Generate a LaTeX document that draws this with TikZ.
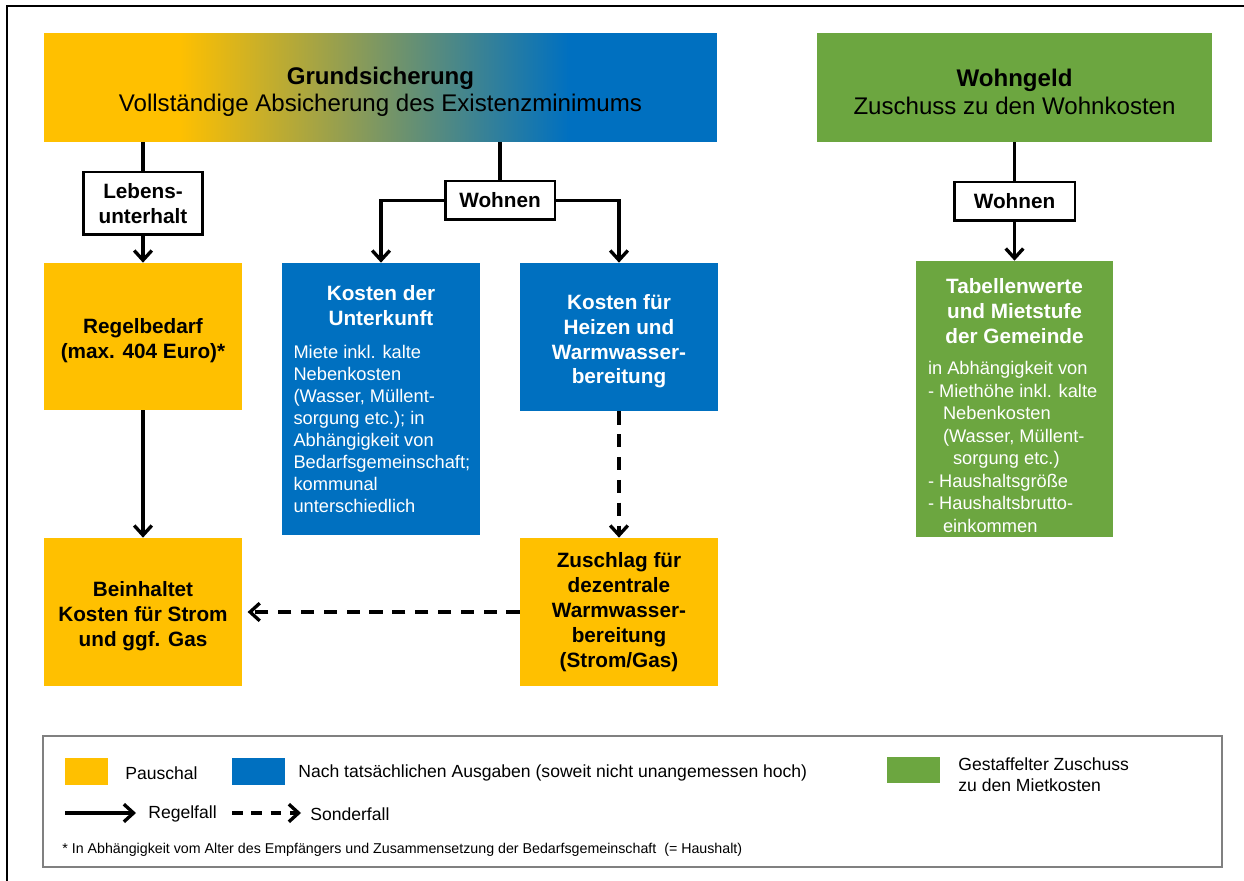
\documentclass[tikz,border=0pt]{standalone}
\usepackage{fontspec}
\setmainfont{Liberation Sans}
\usetikzlibrary{arrows.meta}
\definecolor{yel}{HTML}{FFC000}
\definecolor{blu}{HTML}{0070C0}
\definecolor{grn}{RGB}{108,166,64}
\newcommand\myhfont{\fontsize{11.8}{14.2}\selectfont\bfseries}
\newcommand\mybfont{\fontsize{10.4}{12.5}\selectfont\mdseries}
\newcommand\mytfont{\fontsize{13.7}{15.9}\selectfont}
\newcommand\tsa{\rule{0pt}{13.4pt}}
\newcommand\tsb{\rule{0pt}{14.8pt}}
\pgfdeclarehorizontalshading{gsshade}{100bp}{color(0bp)=(yel); color(35bp)=(yel); color(64bp)=(blu); color(100bp)=(blu)}
\begin{document}
\begin{tikzpicture}[x=0.02cm,y=-0.02cm,
  box/.style={rectangle, draw=none, inner sep=0, minimum width=3.96cm, align=center, font=\myhfont},
  lbl/.style={rectangle, draw, line width=1.7pt, fill=white, inner sep=0, align=center, font=\myhfont},
  head/.style={rectangle, draw=none, inner sep=0, minimum height=2.18cm, align=center, font=\mytfont},
  ln/.style={line width=1.9pt},
  arr/.style={line width=1.9pt, -{Straight Barb[length=5.5pt,width=10pt]}},
  darr/.style={arr, dash pattern=on 7.5pt off 5.5pt},
  swatch/.style={rectangle, draw=none, inner sep=0, minimum height=0.54cm},
  txt/.style={inner sep=0, anchor=west, font=\fontsize{10}{12}\selectfont, align=left}]
\useasboundingbox (0,0) rectangle (1244,881);
% outer frame
\draw[line width=1.4pt] (7,881) -- (7,6) -- (1244,6);

% headers
\node[head, shading=gsshade, minimum width=13.46cm] (gs) at (380.5,87.5)
  {\tsb\textbf{Grundsicherung}\\Vollständige Absicherung des Existenzminimums};
\node[head, fill=grn, minimum width=7.9cm] (wg) at (1014.5,87.5)
  {\tsb\textbf{Wohngeld}\\Zuschuss zu den Wohnkosten};

% label boxes
\node[lbl, minimum width=2.4cm, minimum height=1.26cm] (lu) at (143,203.5) {Lebens-\\unterhalt};
\node[lbl, minimum width=2.2cm, minimum height=0.78cm] (wo1) at (500,200.5) {Wohnen};
\node[lbl, minimum width=2.42cm, minimum height=0.78cm] (wo2) at (1014.5,201.5) {Wohnen};

% content boxes
\node[box, fill=yel, minimum height=2.94cm] (rb) at (143,336.5) {\tsa Regelbedarf\\(max. 404 Euro)*};
\node[box, fill=yel, minimum height=2.96cm] (bh) at (143,612) {\tsa Beinhaltet\\Kosten für Strom\\und ggf. Gas};
\node[box, fill=blu, text=white, minimum height=5.44cm, text width=3.5cm, align=none, inner xsep=0.23cm] (ku) at (381,399)
  {{\centering\myhfont Kosten der\\Unterkunft\par}\vspace{6pt}%
   {\raggedright\mybfont Miete inkl. kalte\\Nebenkosten\\(Wasser, Müllent-\\sorgung etc.); in\\Abhängigkeit von\\Bedarfsgemeinschaft;\\kommunal\\unterschiedlich\par}};
\node[box, fill=blu, text=white, minimum height=2.96cm] (hz) at (619,337) {\tsa Kosten für\\Heizen und\\Warmwasser-\\bereitung};
\node[box, fill=yel, minimum height=2.96cm] (zs) at (619,612) {Zuschlag für\\dezentrale\\Warmwasser-\\bereitung\\(Strom/Gas)};
\node[box, fill=grn, text=white, minimum width=3.94cm, minimum height=5.52cm, text width=3.46cm, align=none, inner xsep=0.24cm] (tw) at (1014.5,399)
  {{\centering\myhfont\rule{0pt}{16pt}Tabellenwerte\\und Mietstufe\\der Gemeinde\par}\vspace{5pt}%
   {\raggedright\fontsize{10.4}{12.8}\selectfont\mdseries in Abhängigkeit von\\- Miethöhe inkl. kalte\\\hspace*{0.3cm}Nebenkosten\\\hspace*{0.3cm}(Wasser, Müllent-\\\hspace*{0.5cm}sorgung etc.)\\- Haushaltsgröße\\- Haushaltsbrutto-\\\hspace*{0.3cm}einkommen\par}};

% connectors
\draw[ln] (lu.north |- gs.south) -- (lu.north);
\draw[arr] (lu.south) -- (rb.north);
\draw[ln] (wo1.north |- gs.south) -- (wo1.north);
\draw[arr] (wo1.west) -| (ku.north);
\draw[arr] (wo1.east) -| (hz.north);
\draw[ln] (wo2.north |- wg.south) -- (wo2.north);
\draw[arr] (wo2.south) -- (tw.north);
\draw[arr] (rb.south) -- (bh.north);
\draw[darr] (hz.south) -- (zs.north);
\draw[darr, shorten >=3pt] (zs.west) -- (bh.east);

% legend
\node[rectangle, draw=gray, line width=0.8pt, inner sep=0, minimum width=23.58cm, minimum height=2.62cm] (lg) at (632.5,801.5) {};
\node[swatch, fill=yel, minimum width=0.88cm] (sy) at (86.5,771) {};
\node[txt] (ty) at (125,773) {Pauschal};
\node[swatch, fill=blu, minimum width=1.06cm] (sb) at (258.5,771) {};
\node[txt] (tb) at (298,773) {Nach tatsächlichen Ausgaben (soweit nicht unangemessen hoch)};
\node[swatch, fill=grn, minimum width=1.06cm, minimum height=0.52cm] (sg) at (913.5,770) {};
\node[txt] (tg) at (958,775) {Gestaffelter Zuschuss\\zu den Mietkosten};
\coordinate (r1) at (65,813);
\coordinate (r2) at (136,813);
\draw[arr] (r1) -- (r2);
\node[txt] (tr) at (148,814) {Regelfall};
\coordinate (s1) at (232,813);
\coordinate (s2) at (301,813);
\draw[arr, dash pattern=on 6pt off 5pt] (s1) -- (s2);
\node[txt] (ts) at (310,814) {Sonderfall};
\node[txt, font=\fontsize{8.1}{9.5}\selectfont] (fn) at (62,850)
  {* In Abhängigkeit vom Alter des Empfängers und Zusammensetzung der Bedarfsgemeinschaft\ \ (= Haushalt)};
\end{tikzpicture}
\end{document}
